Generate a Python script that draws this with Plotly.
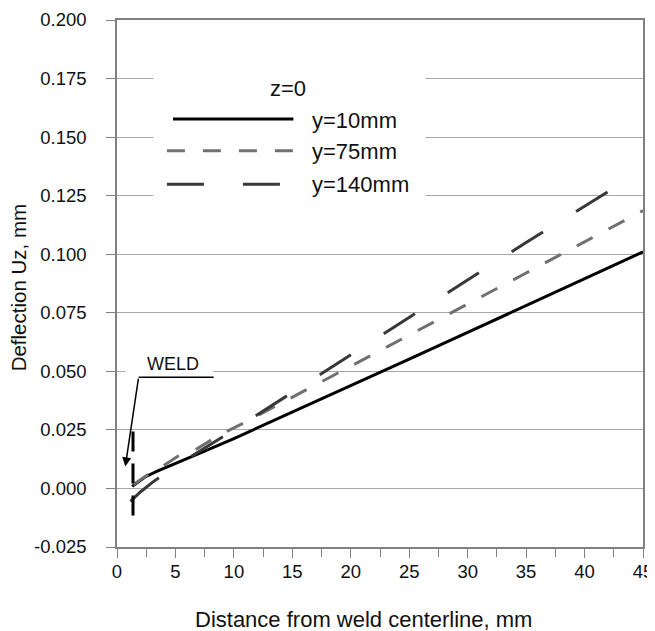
import plotly.graph_objects as go

# ---- data ----
x_y10 = [1.3, 2.4, 3.4, 5.0, 7.5, 10, 15, 20, 25, 30, 35, 40, 45]
uz_y10 = [0.0009, 0.0049, 0.0073, 0.0106, 0.0159, 0.0213, 0.0325, 0.0438, 0.0552, 0.0666, 0.0781, 0.0895, 0.1010]

x_y75 = [1.4, 2.4, 3.9, 5.2, 6.7, 8.8, 11.1, 15, 20, 25, 30, 35, 40, 45]
uz_y75 = [0.0016, 0.0051, 0.0094, 0.0137, 0.0165, 0.0229, 0.0286, 0.0390, 0.0522, 0.0655, 0.0788, 0.0920, 0.1053, 0.1186]

x_y140 = [1.15, 2.0, 3.0, 4.0, 5, 10, 15, 20, 25, 30, 35, 40, 42]
uz_y140 = [-0.0055, -0.0015, 0.0025, 0.0062, 0.0095, 0.025, 0.041, 0.057, 0.073, 0.089, 0.105, 0.1205, 0.1267]

weld_x = [1.37, 1.37]
weld_uz = [0.0243, -0.0162]

leader_x = [8.27, 1.85]
leader_uz = [0.0475, 0.0475]

series_names = ["y=10mm", "y=75mm", "y=140mm"]
legend_title = "z=0"
x_ticks = [0, 5, 10, 15, 20, 25, 30, 35, 40, 45]
y_ticks = [-0.025, 0.0, 0.025, 0.05, 0.075, 0.1, 0.125, 0.15, 0.175, 0.2]

FONT = "Liberation Sans, Arial, sans-serif"
C_SOLID = "#000000"
C_GRAY = "#707070"
C_DARK = "#383838"
DASH_GRAY = "18px,18px"
DASH_LONG = "37px,39px"

fig = go.Figure()

fig.add_trace(go.Scatter(x=x_y10, y=uz_y10, mode="lines", name=series_names[0],
                         line=dict(color=C_SOLID, width=3), showlegend=False))
fig.add_trace(go.Scatter(x=x_y75, y=uz_y75, mode="lines", name=series_names[1],
                         line=dict(color=C_GRAY, width=3, dash=DASH_GRAY), showlegend=False))
fig.add_trace(go.Scatter(x=x_y140, y=uz_y140, mode="lines", name=series_names[2],
                         line=dict(color=C_DARK, width=3, dash=DASH_LONG), showlegend=False))
fig.add_trace(go.Scatter(x=weld_x, y=weld_uz, mode="lines", name="weld",
                         line=dict(color="#000000", width=3, dash="20px,12px"), showlegend=False))
fig.add_trace(go.Scatter(x=leader_x, y=leader_uz, mode="lines", name="leader",
                         line=dict(color="#000000", width=1.5), showlegend=False))

shapes = [
    # white box behind legend (hides gridlines)
    dict(type="rect", xref="x", yref="y", x0=3.1, x1=26.4, y0=0.112, y1=0.19,
         fillcolor="white", line=dict(width=0), layer="between"),
    # white box behind WELD label
    dict(type="rect", xref="x", yref="y", x0=0.72, x1=8.25, y0=0.049, y1=0.058,
         fillcolor="white", line=dict(width=0), layer="between"),
    # legend samples
    dict(type="line", xref="x", yref="y", x0=4.79, x1=15.09, y0=0.1577, y1=0.1577,
         line=dict(color=C_SOLID, width=3)),
    dict(type="line", xref="x", yref="y", x0=4.27, x1=15.67, y0=0.1442, y1=0.1442,
         line=dict(color=C_GRAY, width=3, dash=DASH_GRAY)),
    dict(type="line", xref="x", yref="y", x0=4.27, x1=15.09, y0=0.1299, y1=0.1299,
         line=dict(color=C_DARK, width=3, dash=DASH_LONG)),
]

LEG = 22
annotations = [
    dict(x=14.64, y=0.1706, xref="x", yref="y", text=legend_title, showarrow=False,
         font=dict(size=LEG, color="#111", family=FONT), xanchor="center", yanchor="middle"),
    dict(x=16.52, y=0.1573, xref="x", yref="y", text=series_names[0], showarrow=False,
         font=dict(size=LEG, color="#111", family=FONT), xanchor="left", yanchor="middle"),
    dict(x=16.52, y=0.1438, xref="x", yref="y", text=series_names[1], showarrow=False,
         font=dict(size=LEG, color="#111", family=FONT), xanchor="left", yanchor="middle"),
    dict(x=16.52, y=0.1296, xref="x", yref="y", text=series_names[2], showarrow=False,
         font=dict(size=LEG, color="#111", family=FONT), xanchor="left", yanchor="middle"),
    dict(x=4.79, y=0.0532, xref="x", yref="y", text="WELD", showarrow=False,
         font=dict(size=18, color="#111", family=FONT), xanchor="center", yanchor="middle"),
    # arrow of the WELD leader
    dict(x=0.71, y=0.0094, xref="x", yref="y", ax=1.85, ay=0.0475, axref="x", ayref="y",
         text="", showarrow=True, arrowhead=2, arrowsize=1.2, arrowwidth=1.5, arrowcolor="#000"),
    # axis titles
    dict(x=0.4677, y=-0.137, xref="paper", yref="paper", text="Distance from weld centerline, mm",
         showarrow=False, font=dict(size=22, color="#111", family=FONT),
         xanchor="center", yanchor="middle"),
    dict(x=-0.1873, y=0.4917, xref="paper", yref="paper", text="Deflection Uz, mm",
         showarrow=False, textangle=-90, font=dict(size=20.5, color="#111", family=FONT),
         xanchor="center", yanchor="middle"),
]

# the page body has an 8px default margin, so the figure is drawn 8px in from the window edge
fig.update_layout(
    width=647, height=623,
    margin=dict(l=109, r=12, t=12, b=84, autoexpand=False),
    paper_bgcolor="white", plot_bgcolor="white",
    font=dict(family=FONT, size=18.5, color="#111"),
    showlegend=False,
    shapes=shapes,
    annotations=annotations,
)

fig.update_xaxes(
    range=[0, 45], tickvals=x_ticks, ticktext=[str(v) for v in x_ticks],
    automargin=False,
    showgrid=False, zeroline=False,
    showline=True, linecolor="#808080", linewidth=1.5, mirror=True,
    ticks="outside", ticklen=9, tickcolor="#808080", tickwidth=1.2,
    minor=dict(dtick=2.5, tick0=0, ticks="outside", ticklen=8, tickcolor="#808080", tickwidth=1.2, showgrid=False),
    tickfont=dict(size=18.5, color="#111", family=FONT),
    ticklabelstandoff=-2,
)
fig.update_yaxes(
    range=[-0.025, 0.2], tickvals=y_ticks, ticktext=[f"{v:.3f}" for v in y_ticks],
    automargin=False,
    showgrid=True, gridcolor="#a8a8a8", gridwidth=1, zeroline=False,
    showline=True, linecolor="#808080", linewidth=1.5, mirror=True,
    ticks="outside", ticklen=9, tickcolor="#808080", tickwidth=1.2,
    tickfont=dict(size=18.5, color="#111", family=FONT),
    ticklabelstandoff=16,
)

fig.write_html("out.html")
